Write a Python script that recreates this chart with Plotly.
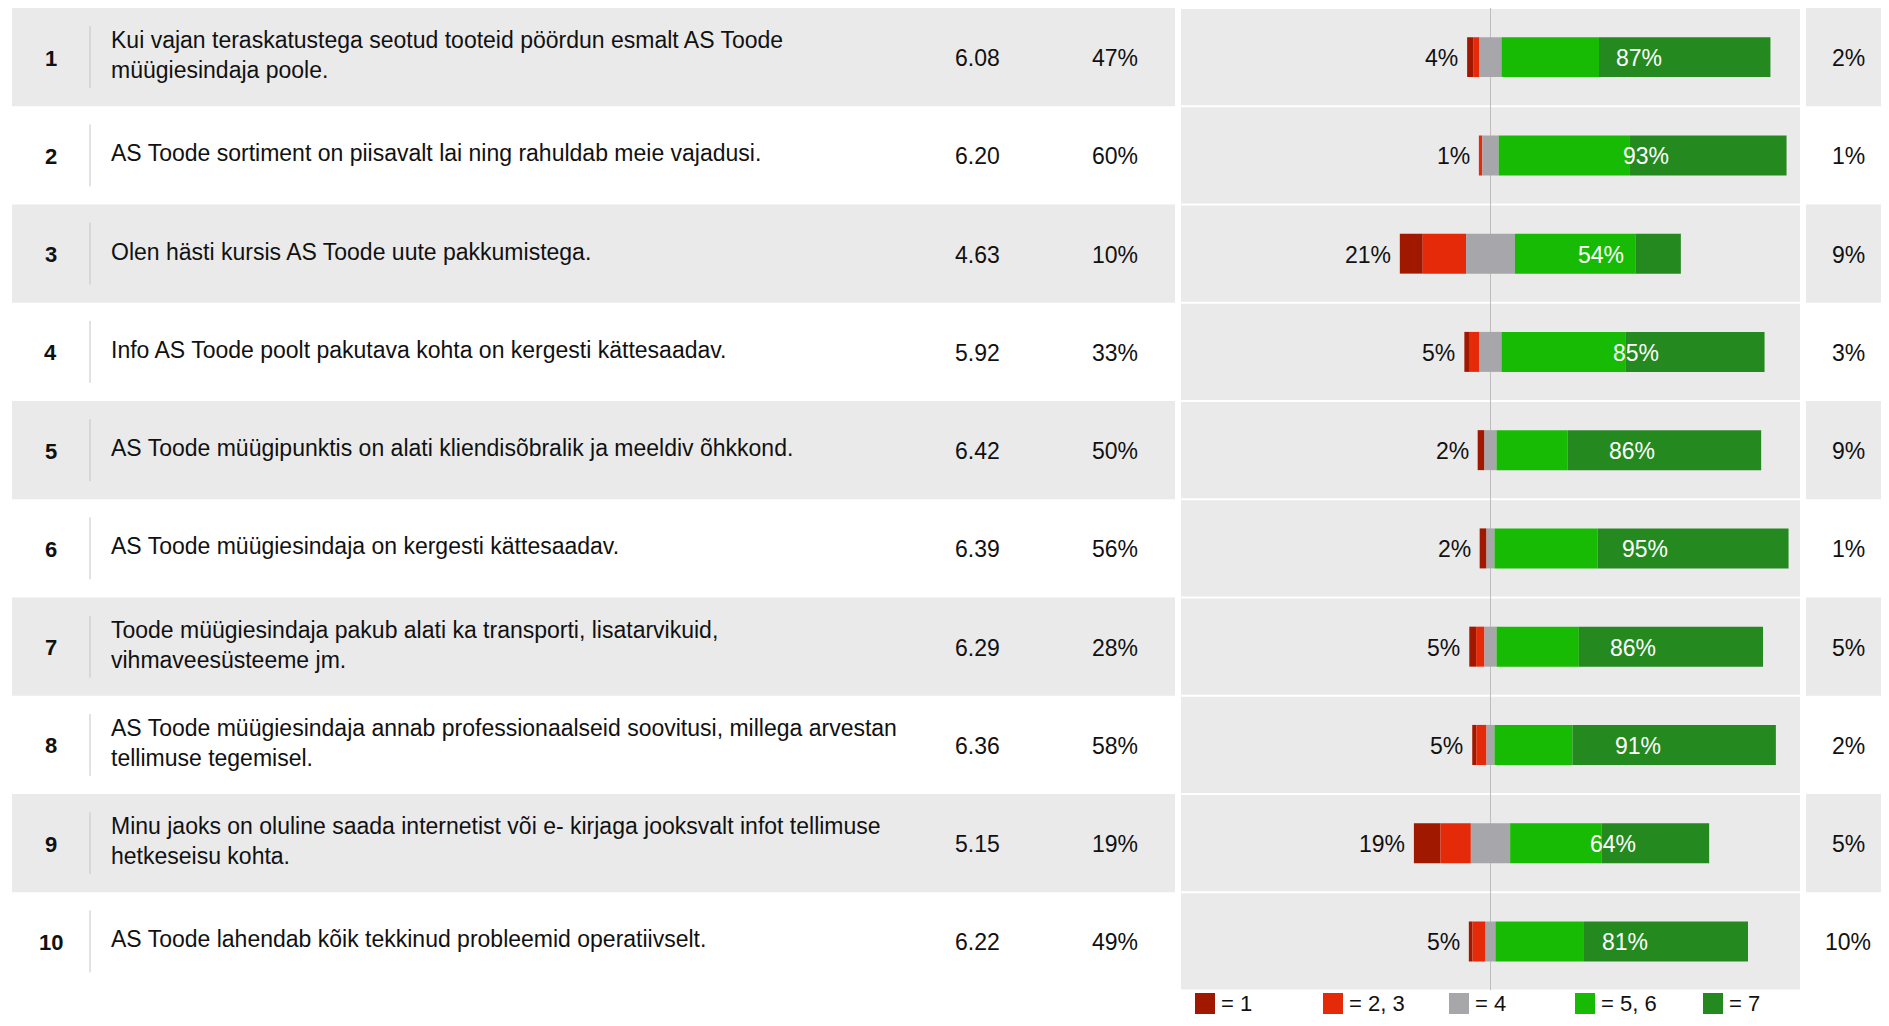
import numpy as np
import plotly.graph_objects as go

# statements, one per row
rows = list(range(1, 11))
questions = [
    "Kui vajan teraskatustega seotud tooteid pöördun esmalt AS Toode<br>müügiesindaja poole.",
    "AS Toode sortiment on piisavalt lai ning rahuldab meie vajadusi.",
    "Olen hästi kursis AS Toode uute pakkumistega.",
    "Info AS Toode poolt pakutava kohta on kergesti kättesaadav.",
    "AS Toode müügipunktis on alati kliendisõbralik ja meeldiv õhkkond.",
    "AS Toode müügiesindaja on kergesti kättesaadav.",
    "Toode müügiesindaja pakub alati ka transporti, lisatarvikuid,<br>vihmaveesüsteeme jm.",
    "AS Toode müügiesindaja annab professionaalseid soovitusi, millega arvestan<br>tellimuse tegemisel.",
    "Minu jaoks on oluline saada internetist või e- kirjaga jooksvalt infot tellimuse<br>hetkeseisu kohta.",
    "AS Toode lahendab kõik tekkinud probleemid operatiivselt.",
]
means = ["6.08", "6.20", "4.63", "5.92", "6.42", "6.39", "6.29", "6.36", "5.15", "6.22"]
top_share = ["47%", "60%", "10%", "33%", "50%", "56%", "28%", "58%", "19%", "49%"]
no_answer = ["2%", "1%", "9%", "3%", "9%", "1%", "5%", "2%", "5%", "10%"]

# answer shares in %
share_1 = [2.1, 0.0, 7.4, 1.5, 2.2, 2.2, 2.2, 1.3, 8.6, 1.2]
share_23 = [1.9, 1.1, 14.0, 3.4, 0.0, 0.0, 2.7, 3.3, 9.8, 4.2]
share_4 = [7.1, 5.3, 15.8, 7.1, 3.9, 2.6, 3.9, 2.6, 12.7, 3.2]
share_56 = [31.5, 42.4, 38.9, 40.0, 23.0, 33.3, 26.6, 25.2, 29.6, 28.6]
share_7 = [55.4, 50.6, 14.7, 45.0, 62.5, 61.7, 59.5, 65.7, 34.7, 53.0]
neg_labels = ["4%", "1%", "21%", "5%", "2%", "2%", "5%", "5%", "19%", "5%"]
pos_labels = ["87%", "93%", "54%", "85%", "86%", "95%", "86%", "91%", "64%", "81%"]

legend_labels = ["= 1", "= 2, 3", "= 4", "= 5, 6", "= 7"]
colors = ["#A01800", "#E52A0A", "#A7A6AB", "#17BB03", "#24891F"]

FONT = "Liberation Sans, Arial, sans-serif"
W, H, OFF = 1873, 1010, 8  # figure sits inside the 8px body margin


def px(x):
    return (x - OFF) / W


def py(y):
    return 1 - (y - OFF) / H


s1, s23, s4 = np.array(share_1), np.array(share_23), np.array(share_4)
s56, s7 = np.array(share_56), np.array(share_7)
half4 = s4 / 2

lengths = [s1, s23, s4, s56, s7]
bases = [-(half4 + s23 + s1), -(half4 + s23), -half4, half4, half4 + s56]

fig = go.Figure()
for name, ln, bs, col in zip(legend_labels, lengths, bases, colors):
    fig.add_trace(go.Bar(y=rows, x=ln, base=bs, orientation="h", width=0.407,
                         name=name, marker=dict(color=col, line=dict(width=0)),
                         showlegend=False))

shapes = []
for i in rows:
    if i % 2 == 1:
        shapes.append(dict(type="rect", xref="paper", yref="y", x0=px(12), x1=px(1175),
                           y0=i - 0.5, y1=i + 0.5, fillcolor="#EAEAEA",
                           line=dict(width=0), layer="below"))
        shapes.append(dict(type="rect", xref="paper", yref="y", x0=px(1806), x1=1.0,
                           y0=i - 0.5, y1=i + 0.5, fillcolor="#EAEAEA",
                           line=dict(width=0), layer="below"))
    shapes.append(dict(type="rect", xref="paper", yref="y", x0=px(1181), x1=px(1800),
                       y0=i - 0.49, y1=i + 0.49, fillcolor="#EAEAEA",
                       line=dict(width=0), layer="below"))
    shapes.append(dict(type="line", xref="paper", yref="y", x0=px(90), x1=px(90),
                       y0=i - 0.315, y1=i + 0.315, line=dict(color="#C4C4C4", width=1)))
shapes.append(dict(type="line", xref="x", yref="y", x0=0, x1=0, y0=0.5, y1=10.5,
                   line=dict(color="#BDBDBD", width=1), layer="below"))

annotations = []
tf = dict(family=FONT, size=23, color="#111111")
for k, i in enumerate(rows):
    annotations.append(dict(xref="paper", yref="y", x=px(50.6), y=i, text=str(i),
                            showarrow=False, xanchor="center", yshift=-1,
                            font=dict(family=FONT, size=22, color="#111111", weight="bold")))
    annotations.append(dict(xref="paper", yref="y", x=px(109), y=i, text=questions[k],
                            showarrow=False, xanchor="left", align="left", yshift=2, font=tf))
    annotations.append(dict(xref="paper", yref="y", x=px(978), y=i, text=means[k],
                            showarrow=False, xanchor="center", yshift=-1, font=tf))
    annotations.append(dict(xref="paper", yref="y", x=px(1115), y=i, text=top_share[k],
                            showarrow=False, xanchor="center", yshift=-1, font=tf))
    annotations.append(dict(xref="paper", yref="y", x=px(1848), y=i, text=no_answer[k],
                            showarrow=False, xanchor="center", yshift=-1, font=tf))
    annotations.append(dict(xref="x", yref="y", x=bases[0][k], y=i, text=neg_labels[k],
                            showarrow=False, xanchor="right", xshift=-7, yshift=-1, font=tf))
    annotations.append(dict(xref="x", yref="y", x=half4[k] + (s56[k] + s7[k]) / 2, y=i,
                            text=pos_labels[k], showarrow=False, xanchor="center",
                            xshift=3, yshift=-1,
                            font=dict(family=FONT, size=23, color="white")))

# legend drawn by hand to get the large square swatches
leg_x = [1195, 1323, 1449, 1575, 1703]
for lx, lab, col in zip(leg_x, legend_labels, colors):
    shapes.append(dict(type="rect", xref="paper", yref="paper", x0=px(lx), x1=px(lx + 20),
                       y0=py(1014), y1=py(993), fillcolor=col, line=dict(width=0)))
    annotations.append(dict(xref="paper", yref="paper", x=px(lx + 24), y=py(1017.5),
                            text=lab, showarrow=False, xanchor="left", yanchor="bottom",
                            font=dict(family=FONT, size=22, color="#111111")))

fig.update_layout(
    width=W, height=H,
    margin=dict(l=0, r=0, t=0, b=0),
    barmode="overlay",
    paper_bgcolor="white",
    plot_bgcolor="rgba(0,0,0,0)",
    shapes=shapes,
    annotations=annotations,
    hovermode=False,
)
fig.update_xaxes(domain=[px(1181), px(1800)], range=[-100, 100], visible=False)
fig.update_yaxes(domain=[1 - 982.55 / H, 1.0], range=[10.5, 0.5], visible=False)

fig.write_html("out.html")
